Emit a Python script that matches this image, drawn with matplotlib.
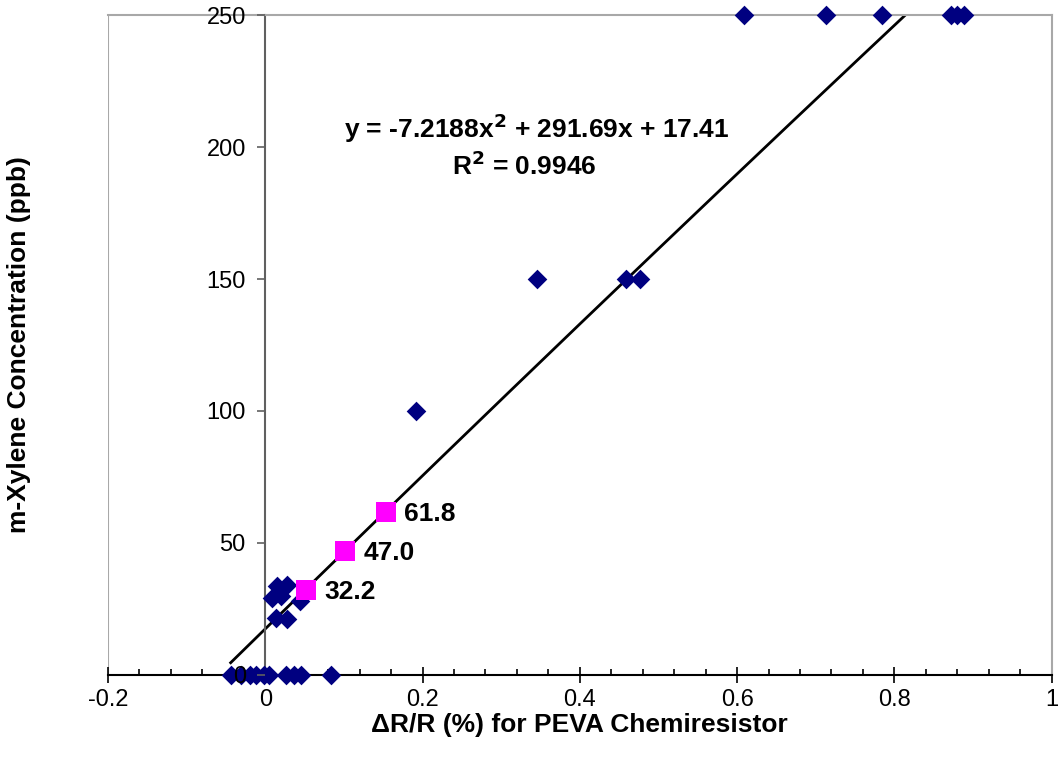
import numpy as np
import matplotlib.pyplot as plt
from matplotlib.ticker import MultipleLocator, FuncFormatter

plt.rcParams['font.family'] = ['Liberation Sans', 'DejaVu Sans']

# datos medidos (diamantes azules)
dr_r = [0.609, 0.713, 0.784, 0.872, 0.880, 0.889,
        0.346, 0.459, 0.476,
        0.192,
        0.015, 0.027, 0.008, 0.020, 0.044, 0.014, 0.027,
        -0.044, -0.031, -0.020, -0.012, -0.001, 0.005, 0.026, 0.037, 0.045, 0.083]
conc = [250, 250, 250, 250, 250, 250,
        150, 150, 150,
        100,
        33.5, 34, 29, 30, 28, 21.5, 21,
        0, 0, 0, 0, 0, 0, 0, 0, 0, 0]

# puntos estimados (cuadrados magenta)
est_x = [0.0515, 0.101, 0.153]
est_y = [32.2, 47.0, 61.8]
est_labels = ['32.2', '47.0', '61.8']

# ajuste polinomico
coef = [-7.2188, 291.69, 17.41]
eq_text = 'y = -7.2188x$^{2}$ + 291.69x + 17.41'
r2_text = 'R$^{2}$ = 0.9946'

BOLD = 19
TICK = 17

fig = plt.figure(figsize=(10.59, 7.59), dpi=100)
ax = fig.add_axes([0.102, 0.111, 0.891, 0.869])

ax.set_xlim(-0.2, 1.0)
ax.set_ylim(0, 250)

xs = np.linspace(min(dr_r), max(dr_r), 200)
ax.plot(xs, np.polyval(coef, xs), color='black', lw=2, zorder=2)

ax.scatter(dr_r, conc, marker='D', s=10**2, color='#000080', linewidths=0,
           clip_on=False, zorder=3)
ax.scatter(est_x, est_y, marker='s', s=14**2, color='#FF00FF', linewidths=0,
           clip_on=False, zorder=4)
for x, y, t in zip(est_x, est_y, est_labels):
    ax.text(x + 0.024, y - 1, t, fontsize=BOLD, fontweight='bold', va='center', ha='left')

plt.rcParams['mathtext.default'] = 'bf'
ax.text(0.345, 207, eq_text, fontsize=BOLD, fontweight='bold', ha='center', va='center')
ax.text(0.33, 193, r2_text, fontsize=BOLD, fontweight='bold', ha='center', va='center')

# ejes estilo Excel
ax.spines['left'].set_position(('data', 0))
ax.spines['left'].set_color('#606060')
ax.spines['left'].set_linewidth(1.5)
ax.spines['bottom'].set_color('black')
ax.spines['bottom'].set_linewidth(1.5)
for s in ['top', 'right']:
    ax.spines[s].set_color('#a8a8a8')
    ax.spines[s].set_linewidth(1.5)
ax.axvline(-0.2, color='#a8a8a8', lw=1.5, zorder=1)
ax.yaxis.set_zorder(5)

ax.xaxis.set_major_locator(MultipleLocator(0.2))
ax.xaxis.set_minor_locator(MultipleLocator(0.04))
ax.xaxis.set_major_formatter(FuncFormatter(lambda v, p: '%g' % round(v, 2)))
ax.yaxis.set_major_locator(MultipleLocator(50))
ax.tick_params(axis='x', which='major', direction='inout', length=12, width=1.2,
               labelsize=TICK, pad=4)
ax.tick_params(axis='x', which='minor', direction='in', length=4, width=1.2)
ax.tick_params(axis='y', which='major', direction='out', length=6, width=1.2,
               color='#606060', labelsize=TICK, pad=8)

ax.set_xlabel('ΔR/R (%) for PEVA Chemiresistor', fontsize=BOLD, fontweight='bold', labelpad=2)
ax.set_ylabel('m-Xylene Concentration (ppb)', fontsize=BOLD, fontweight='bold')
ax.yaxis.set_label_coords(-0.082, 0.5, transform=ax.transAxes)

fig.savefig('out.png', dpi=100)
